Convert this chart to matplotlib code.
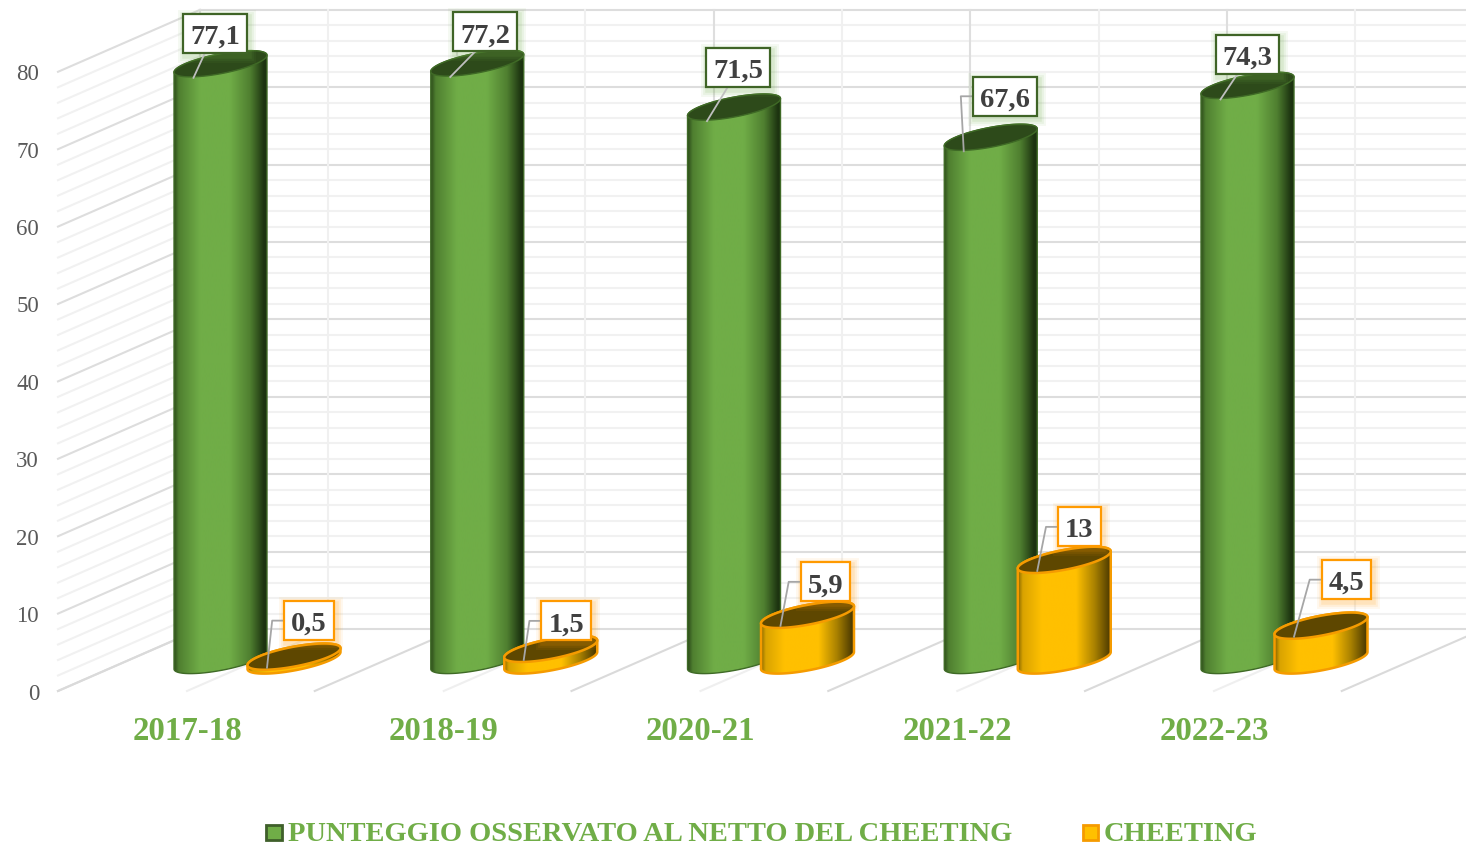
import numpy as np
import matplotlib
matplotlib.use('Agg')
import matplotlib.pyplot as plt
from matplotlib.patches import Polygon, Rectangle

plt.rcParams['font.family'] = ['Liberation Serif', 'DejaVu Serif']

# data
years = ['2017-18', '2018-19', '2020-21', '2021-22', '2022-23']
punteggio = [77.1, 77.2, 71.5, 67.6, 74.3]
cheeting = [0.5, 1.5, 5.9, 13, 4.5]
punteggio_labels = ['77,1', '77,2', '71,5', '67,6', '74,3']
cheeting_labels = ['0,5', '1,5', '5,9', '13', '4,5']
y_ticks = [0, 10, 20, 30, 40, 50, 60, 70, 80]
series_names = ['PUNTEGGIO OSSERVATO AL NETTO DEL CHEETING', 'CHEETING']

# label box offsets from bar top, in pixels (dx, dy up)
green_offs = [(-5.5, 30.5), (8, 31), (4, 40), (14, 41), (0, 31)]
gold_offs = [(15, 36), (15.5, 28), (18, 33), (15, 33), (25.5, 46)]

GREEN = '#70AD47'
GOLD = '#FFC000'
W, H = 1466, 847
CAT = 256.75      # px per category
UNIT = 7.74       # px per value unit
X0, Y0 = 187, 691  # px of first category / value 0 on the front edge

fig = plt.figure(figsize=(W / 100, H / 100), dpi=100)
ax = fig.add_axes([0, 0, 1, 1])
ax.set_xlim(-X0 / CAT, (W - X0) / CAT)
ax.set_ylim(-(H - Y0) / UNIT, Y0 / UNIT)
ax.axis('off')

px = 1 / CAT
py = 1 / UNIT
# depth of the box, px
DEPTH_X, DEPTH_Y = 142 * px, 62 * py
LEFT = (58 - X0) * px
BACK = LEFT + DEPTH_X
RIGHT = (W - X0) * px

# walls
for v in range(0, 82, 2):
    major = v % 10 == 0
    c = '#DDDDDD' if major else '#F1F1F1'
    ax.plot([LEFT, BACK], [v, v + DEPTH_Y], color=c, lw=1.5, zorder=1)
    ax.plot([BACK, RIGHT], [v + DEPTH_Y, v + DEPTH_Y], color=c, lw=1.5, zorder=1)
for i in range(10):
    xb = BACK + i * CAT * px / 2
    major = i % 2 == 0
    ax.plot([xb, xb], [DEPTH_Y, 80 + DEPTH_Y], color='#DEDEDE' if major else '#F0F0F0', lw=1.5, zorder=1)
# floor
for i in range(6):
    x1 = min(LEFT + i + DEPTH_X, RIGHT)
    t = (x1 - LEFT - i) / DEPTH_X
    ax.plot([LEFT + i, x1], [0, DEPTH_Y * t], color='#DADADA', lw=1.5, zorder=1)
    ax.plot([i, i + DEPTH_X], [0, DEPTH_Y], color='#EFEFEF', lw=1.5, zorder=1)

GREEN_MAP = matplotlib.colors.LinearSegmentedColormap.from_list(
    'g', [(0, '#2F4F1C'), (0.05, '#4F7F30'), (0.28, GREEN), (0.6, GREEN), (0.82, '#4F7F30'), (0.97, '#1C3310'), (1, '#1C3310')])
GOLD_MAP = matplotlib.colors.LinearSegmentedColormap.from_list(
    'o', [(0, '#8A6800'), (0.05, '#D9A300'), (0.25, GOLD), (0.62, GOLD), (0.82, '#A88000'), (0.98, '#4F3C00'), (1, '#4F3C00')])
shade = np.linspace(0, 1, 256).reshape(1, -1)

A = 46.5 * px
SKEW = 8.5 * py
B = 10 * py
BASE = (Y0 - 660.5) * py
t = np.linspace(0, 2 * np.pi, 120)


def ellipse(cx, cy):
    return np.column_stack([cx + A * np.cos(t), cy + SKEW * np.cos(t) + B * np.sin(t)])


def cylinder(cx, val, cmap, edge, top, lw, z):
    cy = BASE + val
    # lower half of the base, then up the right side and along the top ellipse
    lower = ellipse(cx, BASE)[60:]
    upper = ellipse(cx, cy)[:61]
    body = np.vstack([lower, upper])
    im = ax.imshow(shade, cmap=cmap, extent=[cx - A, cx + A, BASE - 16 * py, cy + 16 * py],
                   aspect='auto', zorder=z, interpolation='bilinear')
    poly = Polygon(body, closed=True, facecolor='none', edgecolor=edge, lw=lw, zorder=z + 0.1, joinstyle='round')
    ax.add_patch(poly)
    im.set_clip_path(poly)
    ax.add_patch(Polygon(ellipse(cx, cy), closed=True, facecolor=top, edgecolor=edge, lw=lw, zorder=z + 0.2))


def label_box(cx, val, text, off, edge, glow, kind, z):
    top_x = cx - 27 * px
    top_y = BASE + val - (11 if kind == 'gold' else 14) * py
    bx = cx + off[0] * px
    by = BASE + val + off[1] * py
    tx = ax.text(bx, by - 1 * py, text, ha='center', va='center_baseline', fontsize=20.5, fontweight='bold', color='#404040', zorder=z + 2)
    w = tx.get_window_extent(fig.canvas.get_renderer()).width + 14
    hw, hh = w / 2 * px, 19.5 * py
    for grow, a in [(10, 0.07), (7, 0.09), (4, 0.12)]:
        ax.add_patch(Rectangle((bx - hw + 2 * px, by - hh - 3 * py), 2 * hw, 2 * hh, facecolor='none',
                               edgecolor=glow, lw=grow, alpha=a, zorder=z))
    ax.add_patch(Rectangle((bx - hw, by - hh), 2 * hw, 2 * hh, facecolor='white', edgecolor=edge, lw=1.6, zorder=z + 1))
    # leader line
    if kind == 'gold' or text == '67,6':
        ex = bx - hw - 12 * px
        ax.plot([top_x, ex, bx - hw], [top_y, by, by], color='#A6A6A6', lw=1.3, zorder=z + 0.5)
    else:
        ax.plot([top_x, bx - 10 * px], [top_y, by - hh], color='#BFBFBF', lw=1.3, zorder=z + 0.5)


for i in range(len(years)):
    cx_green = i + 33.5 * px
    cx_gold = i + 107 * px
    cylinder(cx_green, punteggio[i], GREEN_MAP, '#3F6A26', '#2D4A1A', 1.0, 3 + i * 0.01)
    cylinder(cx_gold, cheeting[i], GOLD_MAP, '#F59B00', '#5E4700', 1.8, 4 + i * 0.01)

for i in range(len(years)):
    label_box(i + 33.5 * px, punteggio[i], punteggio_labels[i], green_offs[i], '#3F6426', GREEN, 'green', 6)
    label_box(i + 107 * px, cheeting[i], cheeting_labels[i], gold_offs[i], '#FF9A00', '#FF9A00', 'gold', 6)

# axis labels
for v in y_ticks:
    ax.text(LEFT - 19 * px, v - 3 * py, str(v), ha='right', va='center', fontsize=16.5, color='#595959')
for i, y in enumerate(years):
    ax.text(i, -40 * py, y, ha='center', va='center', fontsize=23.7, fontweight='bold', color=GREEN)

# legend
leg_y = -(832 - Y0) * py
ax.add_patch(Rectangle(((266 - X0) * px, leg_y - 7.5 * py), 16 * px, 15 * py, facecolor=GREEN, edgecolor='#3F5F2A', lw=2, zorder=5))
ax.text((288 - X0) * px, leg_y - 2 * py, series_names[0], ha='left', va='center', fontsize=20.5, fontweight='bold', color=GREEN)
ax.add_patch(Rectangle(((1083 - X0) * px, leg_y - 7.5 * py), 15 * px, 15 * py, facecolor=GOLD, edgecolor='#F59B00', lw=2, zorder=5))
ax.text((1104 - X0) * px, leg_y - 2 * py, series_names[1], ha='left', va='center', fontsize=20.5, fontweight='bold', color=GREEN)

fig.savefig('out.png', dpi=100)
